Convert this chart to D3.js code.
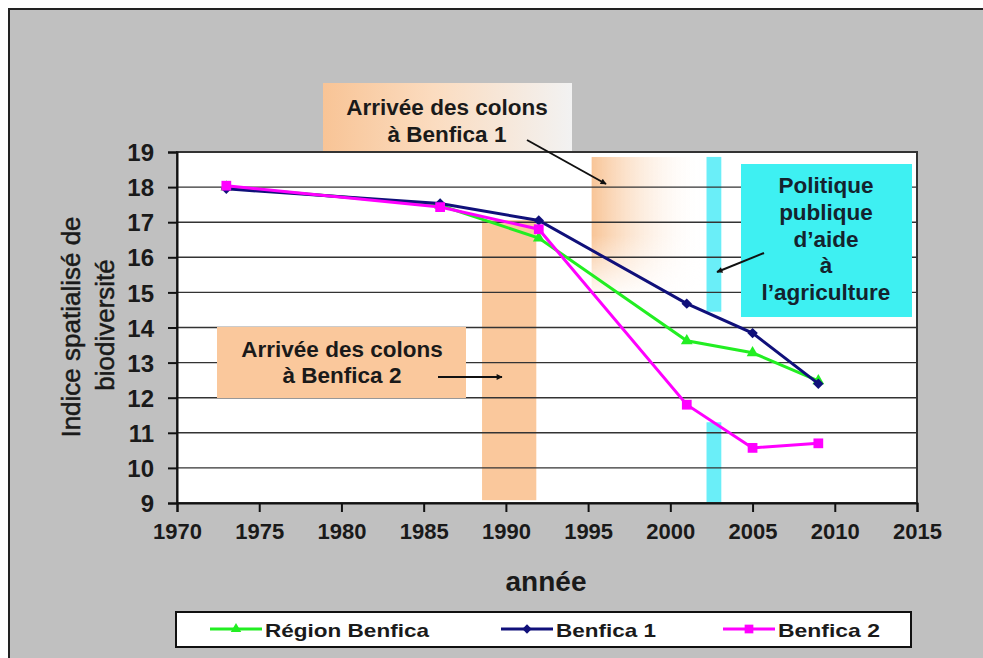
<!DOCTYPE html>
<html>
<head>
<meta charset="utf-8">
<script src="https://cdn.jsdelivr.net/npm/d3@7"></script>
<style>
  body { margin: 0; background: #fff; }
  svg { display: block; font-family: "Liberation Sans", Arial, sans-serif; }
</style>
</head>
<body>
<div id="vis"></div>
<script>
// data
var years = [1973, 1986, 1992, 2001, 2005, 2009];
var region = [18.0, 17.48, 16.55, 13.62, 13.28, 12.48];
var benfica1 = [17.95, 17.53, 17.05, 14.68, 13.84, 12.4];
var benfica2 = [18.04, 17.43, 16.8, 11.8, 10.57, 10.7];
var seriesNames = ['Région Benfica', 'Benfica 1', 'Benfica 2'];
var xTicks = [1970, 1975, 1980, 1985, 1990, 1995, 2000, 2005, 2010, 2015];
var yTicks = [9, 10, 11, 12, 13, 14, 15, 16, 17, 18, 19];

// annotation periods (years / index values)
var colonsB2Band = { x0: 1988.55, x1: 1991.85, y0: 9.08, y1: 17.06 };
var colonsB1Band = { x0: 1995.2, x1: 2002.2, y0: 14.8, y1: 18.86 };
var aideBands = [
  { x0: 2002.2, x1: 2003.1, y0: 14.45, y1: 18.86 },
  { x0: 2002.2, x1: 2003.1, y0: 9.0, y1: 11.3 }
];

var width = 983;
var height = 658;

var x = d3.scaleLinear().domain([1970, 2015]).range([177, 917]);
var y = d3.scaleLinear().domain([9, 19]).range([503, 152]);

var colors = { 'Région Benfica': '#22ee22', 'Benfica 1': '#10107a', 'Benfica 2': '#ff00ff' };
var symbols = { 'Région Benfica': d3.symbolTriangle, 'Benfica 1': d3.symbolDiamond2, 'Benfica 2': d3.symbolSquare };
var symSize = { 'Région Benfica': 60, 'Benfica 1': 70, 'Benfica 2': 95 };

var svg = d3.select('#vis').append('svg')
  .attr('width', width)
  .attr('height', height);

var defs = svg.append('defs');
defs.append('marker')
  .attr('id', 'arrow')
  .attr('viewBox', '0 0 10 10')
  .attr('refX', 9).attr('refY', 5)
  .attr('markerWidth', 7).attr('markerHeight', 6)
  .attr('markerUnits', 'userSpaceOnUse')
  .attr('orient', 'auto')
  .append('path').attr('d', 'M0,0 L10,5 L0,10 z').attr('fill', '#111');

var g1 = defs.append('linearGradient').attr('id', 'fadeBox');
g1.append('stop').attr('offset', '0%').attr('stop-color', '#f8c496');
g1.append('stop').attr('offset', '45%').attr('stop-color', '#fbdcc0');
g1.append('stop').attr('offset', '100%').attr('stop-color', '#f2f2f2');

var g2 = defs.append('linearGradient').attr('id', 'fadeBand');
g2.append('stop').attr('offset', '0%').attr('stop-color', '#f8c496').attr('stop-opacity', 1);
g2.append('stop').attr('offset', '100%').attr('stop-color', '#ffffff').attr('stop-opacity', 0);

var g3 = defs.append('linearGradient').attr('id', 'fadeDown')
  .attr('x1', 0).attr('y1', 0).attr('x2', 0).attr('y2', 1);
g3.append('stop').attr('offset', '55%').attr('stop-color', '#fff').attr('stop-opacity', 1);
g3.append('stop').attr('offset', '100%').attr('stop-color', '#fff').attr('stop-opacity', 0);
defs.append('mask').attr('id', 'downMask')
  .attr('maskContentUnits', 'objectBoundingBox')
  .append('rect').attr('width', 1).attr('height', 1).attr('fill', 'url(#fadeDown)');

// gray frame
svg.append('rect')
  .attr('x', 9).attr('y', 9)
  .attr('width', width).attr('height', height)
  .attr('fill', '#c0c0c0')
  .attr('stroke', '#222')
  .attr('stroke-width', 2);

// top annotation box (behind plot)
svg.append('rect')
  .attr('x', 323).attr('y', 83)
  .attr('width', 249).attr('height', 72)
  .attr('fill', 'url(#fadeBox)');

// plot area
svg.append('rect')
  .attr('x', x(1970)).attr('y', y(19))
  .attr('width', x(2015) - x(1970)).attr('height', y(9) - y(19))
  .attr('fill', '#fff');

// shaded periods
svg.append('rect')
  .attr('x', x(colonsB2Band.x0)).attr('y', y(colonsB2Band.y1))
  .attr('width', x(colonsB2Band.x1) - x(colonsB2Band.x0))
  .attr('height', y(colonsB2Band.y0) - y(colonsB2Band.y1))
  .attr('fill', '#fac89c');

svg.append('rect')
  .attr('x', x(colonsB1Band.x0)).attr('y', y(colonsB1Band.y1))
  .attr('width', x(colonsB1Band.x1) - x(colonsB1Band.x0))
  .attr('height', y(colonsB1Band.y0) - y(colonsB1Band.y1))
  .attr('fill', 'url(#fadeBand)')
  .attr('mask', 'url(#downMask)');

svg.selectAll('.aide').data(aideBands).enter().append('rect')
  .attr('class', 'aide')
  .attr('x', function (d) { return x(d.x0); })
  .attr('y', function (d) { return y(d.y1); })
  .attr('width', function (d) { return x(d.x1) - x(d.x0); })
  .attr('height', function (d) { return y(d.y0) - y(d.y1); })
  .attr('fill', '#6aeef8');

// gridlines
svg.selectAll('.grid').data(yTicks).enter().append('line')
  .attr('class', 'grid')
  .attr('x1', x(1970)).attr('x2', x(2015))
  .attr('y1', function (d) { return y(d); })
  .attr('y2', function (d) { return y(d); })
  .attr('stroke', '#333')
  .attr('stroke-width', 1.4);

// plot border
svg.append('rect')
  .attr('x', x(1970)).attr('y', y(19))
  .attr('width', x(2015) - x(1970)).attr('height', y(9) - y(19))
  .attr('fill', 'none')
  .attr('stroke', '#333')
  .attr('stroke-width', 2);

// cyan policy box
svg.append('rect')
  .attr('x', 741).attr('y', 164)
  .attr('width', 171).attr('height', 153)
  .attr('fill', '#3ef0f2');

// lower annotation box
svg.append('rect')
  .attr('x', 217).attr('y', 327)
  .attr('width', 249).attr('height', 71)
  .attr('fill', '#fac89c');

// axes
var yAxis = d3.axisLeft(y).tickValues(yTicks).tickSize(9).tickPadding(14);
var xAxis = d3.axisBottom(x).tickValues(xTicks).tickFormat(d3.format('d')).tickSize(9).tickPadding(11);

var ya = svg.append('g').attr('transform', 'translate(' + x(1970) + ',0)').call(yAxis);
var xa = svg.append('g').attr('transform', 'translate(0,' + y(9) + ')').call(xAxis);
[ya, xa].forEach(function (a) {
  a.select('.domain').attr('stroke', '#111').attr('stroke-width', 2);
  a.selectAll('.tick line').attr('stroke', '#111').attr('stroke-width', 2);
  a.selectAll('.tick text').attr('fill', '#1a1a1a').style('font-weight', 'bold');
});
ya.selectAll('.tick text').style('font-size', '24px').attr('dy', '0.36em');
xa.selectAll('.tick text').style('font-size', '22px');

// axis titles
svg.append('text')
  .attr('transform', 'translate(80,327) rotate(-90)')
  .attr('text-anchor', 'middle')
  .style('font-size', '26px')
  .attr('fill', '#1a1a1a')
  .attr('stroke', '#1a1a1a')
  .attr('stroke-width', 0.5)
  .text('Indice spatialisé de');
svg.append('text')
  .attr('transform', 'translate(114,325) rotate(-90)')
  .attr('text-anchor', 'middle')
  .style('font-size', '26px')
  .attr('fill', '#1a1a1a')
  .attr('stroke', '#1a1a1a')
  .attr('stroke-width', 0.5)
  .text('biodiversité');

svg.append('text')
  .attr('x', 546).attr('y', 591)
  .attr('text-anchor', 'middle')
  .style('font-size', '28px')
  .style('font-weight', 'bold')
  .attr('fill', '#1a1a1a')
  .text('année');

// series
var series = [
  { name: 'Région Benfica', values: region },
  { name: 'Benfica 1', values: benfica1 },
  { name: 'Benfica 2', values: benfica2 }
];

var line = d3.line()
  .x(function (d) { return x(d[0]); })
  .y(function (d) { return y(d[1]); });

series.forEach(function (s) {
  var pts = years.map(function (yr, i) { return [yr, s.values[i]]; });
  svg.append('path')
    .datum(pts)
    .attr('d', line)
    .attr('fill', 'none')
    .attr('stroke', colors[s.name])
    .attr('stroke-width', 3);
  svg.selectAll(null).data(pts).enter().append('path')
    .attr('transform', function (d) { return 'translate(' + x(d[0]) + ',' + y(d[1]) + ')'; })
    .attr('d', d3.symbol().type(symbols[s.name]).size(symSize[s.name]))
    .attr('fill', colors[s.name]);
});

// annotation texts
function textBlock(lines, cx, y0, step, size, color) {
  lines.forEach(function (t, i) {
    svg.append('text')
      .attr('x', cx).attr('y', y0 + i * step)
      .attr('text-anchor', 'middle')
      .style('font-size', size + 'px')
      .style('font-weight', 'bold')
      .attr('fill', color)
      .text(t);
  });
}
textBlock(['Arrivée des colons', 'à Benfica 1'], 447, 115, 27, 22.5, '#1a1a1a');
textBlock(['Arrivée des colons', 'à Benfica 2'], 342, 357, 26, 22.5, '#1a1a1a');
textBlock(['Politique', 'publique', 'd\u2019aide', 'à', 'l\u2019agriculture'], 826, 193, 26.8, 22.5, '#14232e');

// arrows
var arrows = [
  [527, 140, 606, 184],
  [438, 377, 502, 377],
  [764, 253, 717, 272]
];
svg.selectAll('.arrow').data(arrows).enter().append('line')
  .attr('class', 'arrow')
  .attr('x1', function (d) { return d[0]; })
  .attr('y1', function (d) { return d[1]; })
  .attr('x2', function (d) { return d[2]; })
  .attr('y2', function (d) { return d[3]; })
  .attr('stroke', '#111')
  .attr('stroke-width', 2)
  .attr('marker-end', 'url(#arrow)');

// legend
var legend = svg.append('g');
legend.append('rect')
  .attr('x', 176).attr('y', 612)
  .attr('width', 735).attr('height', 35)
  .attr('fill', '#fff')
  .attr('stroke', '#111')
  .attr('stroke-width', 2);

var legendX = [210, 501, 723];
var legendW = [164, 100, 102];
seriesNames.forEach(function (n, i) {
  var lx = legendX[i];
  legend.append('line')
    .attr('x1', lx).attr('x2', lx + 52)
    .attr('y1', 629).attr('y2', 629)
    .attr('stroke', colors[n])
    .attr('stroke-width', 3);
  legend.append('path')
    .attr('transform', 'translate(' + (lx + 26) + ',629)')
    .attr('d', d3.symbol().type(symbols[n]).size(symSize[n] * 0.8))
    .attr('fill', colors[n]);
  legend.append('text')
    .attr('x', lx + 55).attr('y', 637)
    .style('font-size', '19px')
    .style('font-weight', 'bold')
    .attr('fill', '#1a1a1a')
    .attr('textLength', legendW[i])
    .attr('lengthAdjust', 'spacingAndGlyphs')
    .text(n);
});
</script>
</body>
</html>
